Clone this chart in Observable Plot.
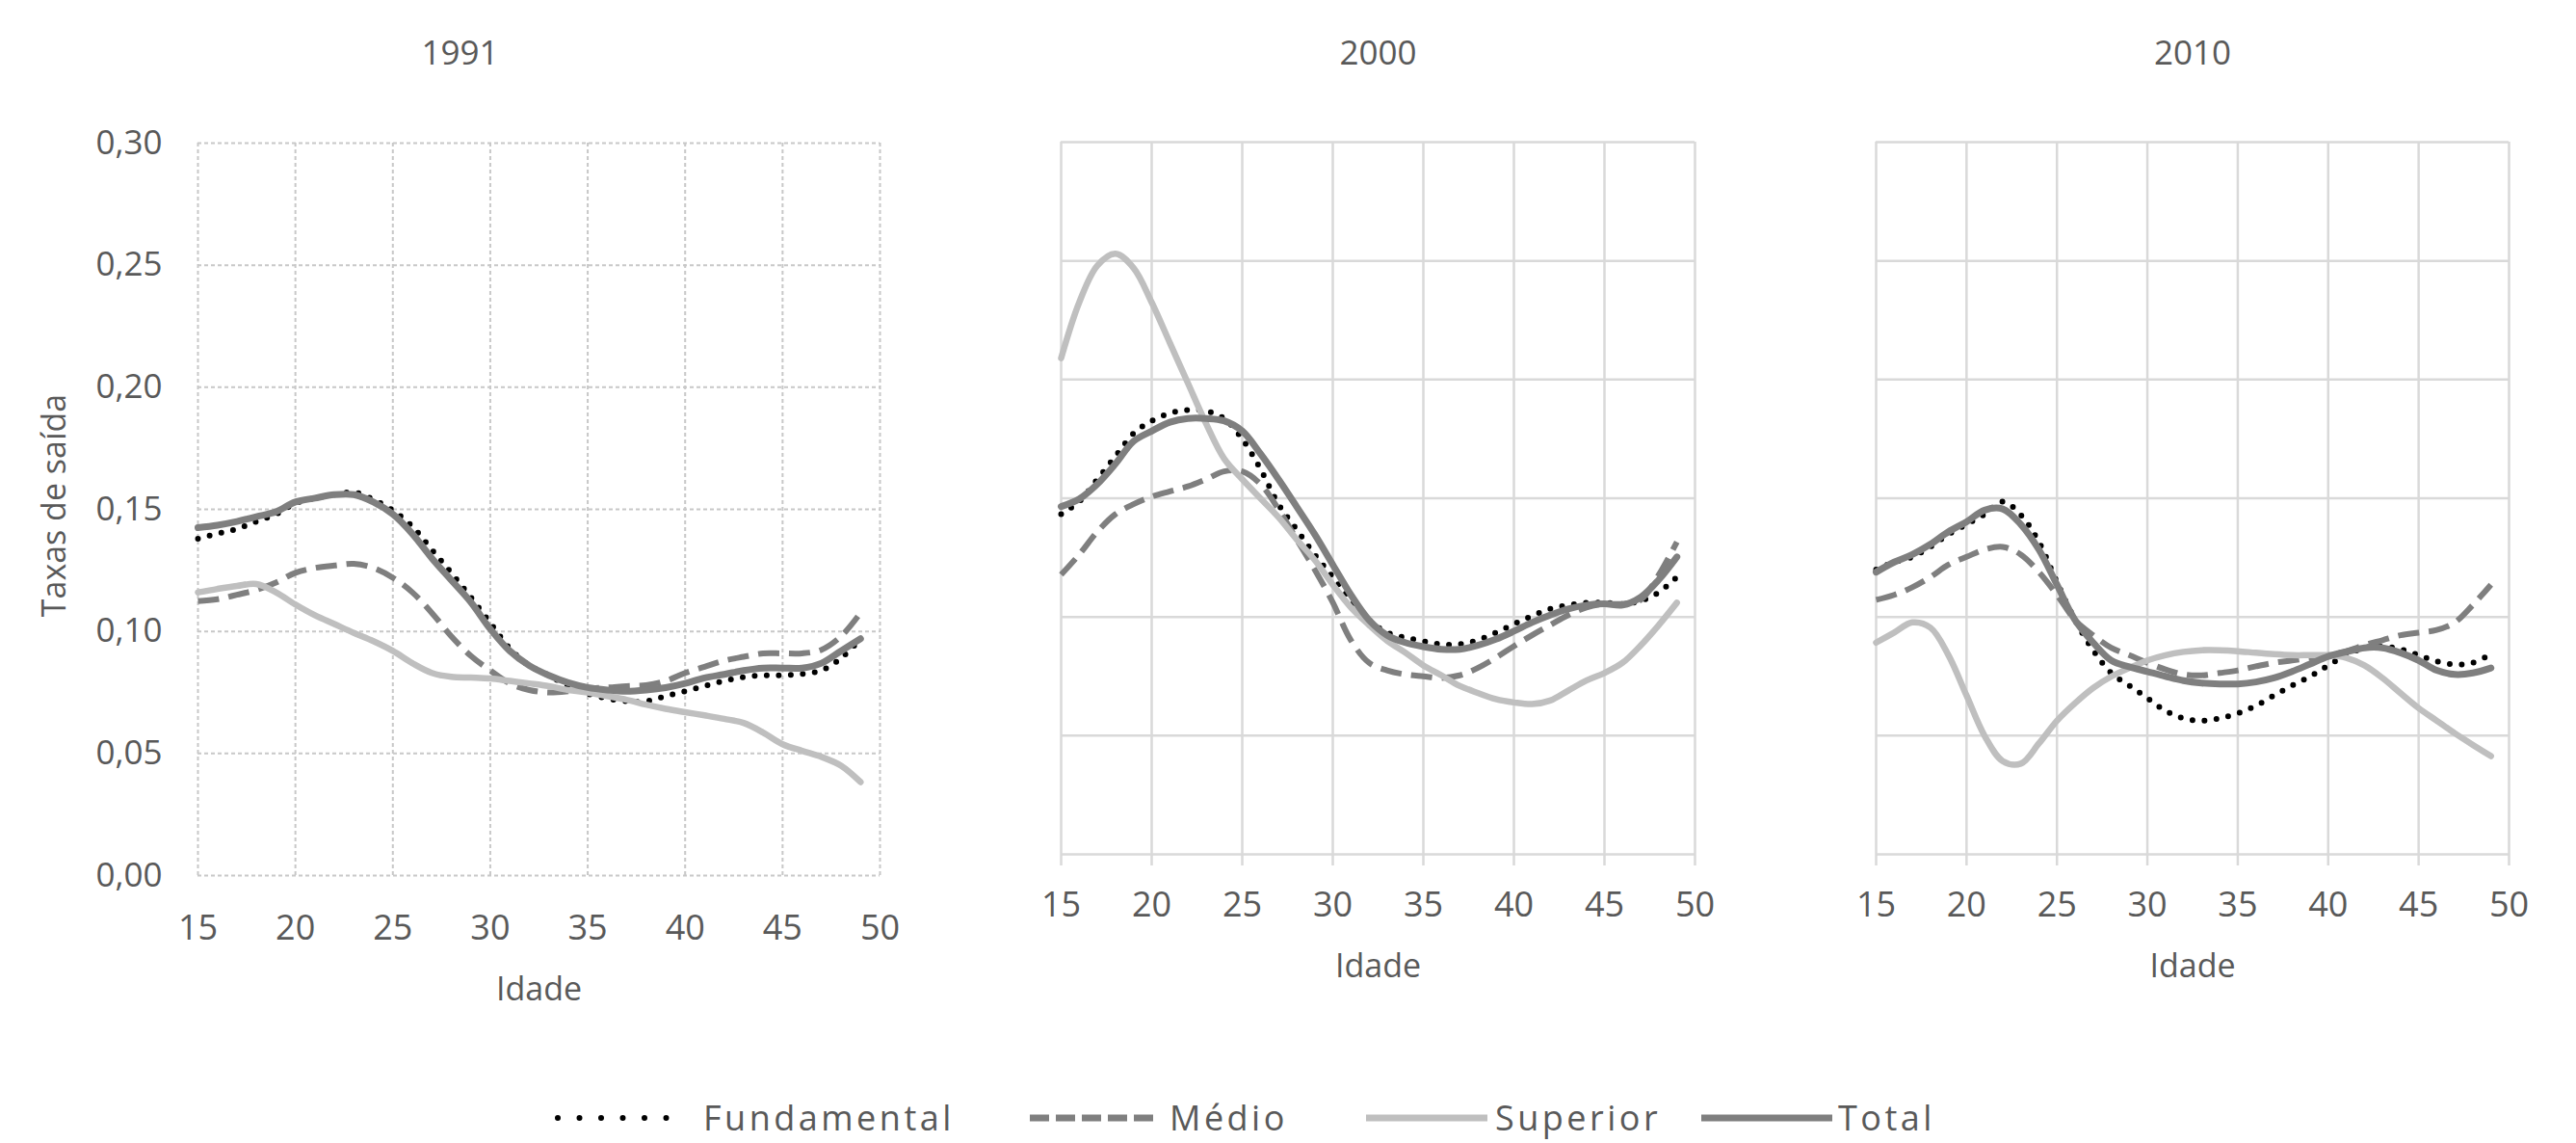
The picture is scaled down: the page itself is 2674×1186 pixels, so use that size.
<!DOCTYPE html>
<html>
<head>
<meta charset="utf-8">
<script src="https://cdn.jsdelivr.net/npm/d3@7"></script>
<script src="https://cdn.jsdelivr.net/npm/@observablehq/plot@0.6"></script>
<style>
  html, body { margin: 0; padding: 0; background: #fff; }
  body { width: 2674px; height: 1186px; overflow: hidden; font-family: "Open Sans", sans-serif; }
  #root { position: relative; width: 2674px; height: 1186px; }
  .panel { position: absolute; top: 0; }
  .leg-line { position: absolute; }
  .leg-text { position: absolute; font-size: 36px; color: #595959; letter-spacing: 3.5px; line-height: 1; transform: translateY(-50%); white-space: nowrap; }
</style>
</head>
<body>
<div id="root"></div>
<script>
// ---------- data ----------
const ages = [15,16,17,18,19,20,21,22,23,24,25,26,27,28,29,30,31,32,33,34,35,36,37,38,39,40,41,42,43,44,45,46,47,48,49];
const xTicks = [15,20,25,30,35,40,45,50];
const yTicks = [0,0.05,0.10,0.15,0.20,0.25,0.30];
const years = ["1991","2000","2010"];
const seriesNames = ["Fundamental","Médio","Superior","Total"];
const xLabel = "Idade";
const yLabel = "Taxas de saída";

const fund1991 = [0.138,0.140,0.142,0.145,0.148,0.1525,0.1546,0.156,0.157,0.154,0.1495,0.143,0.1335,0.124,0.114,0.1035,0.093,0.086,0.082,0.0776,0.0745,0.0725,0.0714,0.0714,0.0735,0.0755,0.0776,0.0797,0.0813,0.082,0.082,0.0826,0.084,0.089,0.097];
const med1991  = [0.1124,0.1132,0.115,0.117,0.120,0.124,0.126,0.127,0.1277,0.126,0.122,0.116,0.1076,0.098,0.090,0.084,0.0787,0.076,0.075,0.0755,0.0766,0.077,0.0776,0.078,0.0797,0.083,0.0855,0.088,0.0896,0.091,0.091,0.091,0.0925,0.098,0.1076];
const sup1991  = [0.116,0.1174,0.1186,0.1194,0.116,0.111,0.1066,0.103,0.0994,0.096,0.092,0.087,0.083,0.0814,0.0811,0.0807,0.0797,0.0787,0.0776,0.076,0.075,0.0735,0.072,0.070,0.0683,0.0669,0.0656,0.0642,0.0625,0.0586,0.0538,0.0511,0.0486,0.045,0.0383];
const tot1991  = [0.1425,0.1435,0.145,0.147,0.149,0.153,0.1546,0.156,0.156,0.153,0.148,0.140,0.130,0.121,0.112,0.101,0.092,0.086,0.082,0.079,0.077,0.076,0.0755,0.076,0.077,0.0787,0.081,0.0824,0.084,0.085,0.085,0.085,0.087,0.092,0.097];

const fund2000 = [0.1433,0.1486,0.158,0.1677,0.1773,0.1826,0.1858,0.1872,0.1868,0.1836,0.175,0.1624,0.1475,0.1369,0.1263,0.1168,0.1072,0.0987,0.0934,0.0913,0.0898,0.0885,0.0885,0.0902,0.0934,0.097,0.1004,0.1034,0.105,0.106,0.106,0.1055,0.1068,0.1104,0.1168];
const med2000  = [0.1178,0.1263,0.1359,0.1433,0.1475,0.1507,0.1529,0.155,0.158,0.1613,0.1613,0.156,0.1454,0.1327,0.120,0.1061,0.0902,0.0807,0.0775,0.0758,0.075,0.0743,0.0754,0.0785,0.0828,0.0877,0.0923,0.0966,0.1008,0.104,0.1055,0.1055,0.1072,0.1178,0.1316];
const sup2000  = [0.209,0.2325,0.248,0.253,0.247,0.2325,0.2155,0.1985,0.1815,0.1667,0.158,0.150,0.142,0.1327,0.124,0.1136,0.104,0.0966,0.090,0.085,0.0796,0.0754,0.071,0.068,0.0654,0.064,0.0633,0.0648,0.069,0.0732,0.0764,0.0807,0.088,0.0966,0.106];
const tot2000  = [0.1465,0.1497,0.156,0.1645,0.174,0.1783,0.182,0.1836,0.1836,0.1826,0.1783,0.1688,0.158,0.1465,0.1348,0.122,0.1093,0.0987,0.0923,0.0892,0.0875,0.0864,0.0864,0.088,0.0906,0.094,0.0977,0.1008,0.1034,0.105,0.1055,0.105,0.1083,0.1157,0.1253];

const fund2010 = [0.120,0.1231,0.1253,0.1295,0.1348,0.139,0.1433,0.1486,0.143,0.1316,0.1146,0.0987,0.086,0.0764,0.0711,0.0658,0.0605,0.0573,0.0563,0.0573,0.0594,0.0626,0.0669,0.0711,0.0749,0.0796,0.0839,0.087,0.0877,0.0864,0.0839,0.0813,0.080,0.0807,0.0843];
const med2010  = [0.1072,0.1093,0.1125,0.1168,0.122,0.1253,0.1284,0.1295,0.1263,0.1189,0.1093,0.0987,0.0923,0.087,0.0839,0.0807,0.0779,0.0758,0.0754,0.0764,0.0775,0.0792,0.0807,0.0817,0.0828,0.0839,0.0856,0.0881,0.0902,0.0923,0.0934,0.0945,0.0977,0.1051,0.1136];
const sup2010  = [0.0892,0.0934,0.0977,0.0955,0.0839,0.0669,0.0499,0.0393,0.0382,0.0467,0.0563,0.0637,0.0701,0.0749,0.0785,0.0817,0.0839,0.0853,0.086,0.086,0.0856,0.0849,0.0843,0.0839,0.0839,0.0839,0.0828,0.0796,0.0743,0.0679,0.0616,0.0563,0.051,0.0461,0.0414];
const tot2010  = [0.1189,0.1231,0.1263,0.1306,0.1359,0.1401,0.145,0.1455,0.139,0.1284,0.1136,0.0987,0.0892,0.0817,0.079,0.077,0.075,0.0732,0.0722,0.0718,0.0718,0.0726,0.0743,0.077,0.0802,0.0834,0.0853,0.087,0.087,0.0849,0.0817,0.0775,0.0758,0.0764,0.0785];

const panelData = [
  [fund1991, med1991, sup1991, tot1991],
  [fund2000, med2000, sup2000, tot2000],
  [fund2010, med2010, sup2010, tot2010]
];

// ---------- styles ----------
const lineStyles = {
  "Fundamental": {stroke: "#000000", strokeWidth: 6, strokeDasharray: "0 12.5", strokeLinecap: "round"},
  "Médio":       {stroke: "#7f7f7f", strokeWidth: 6, strokeDasharray: "22 10", strokeLinecap: "butt"},
  "Superior":    {stroke: "#bfbfbf", strokeWidth: 6.5, strokeLinecap: "round"},
  "Total":       {stroke: "#7f7f7f", strokeWidth: 7, strokeLinecap: "round"}
};
const textColor = "#595959";
const fontFamily = "Open Sans";

// layout of each panel (svg box + plot frame)
const layouts = [
  {left: 0,    width: 960, height: 1060, mL: 205, mR: 47, mT: 148, mB: 152, yAxis: true,  grid: "dashed", tickSize: 0,  tickPad: 41, titleDx: -82, titleDy: -93, labelDy: 119},
  {left: 960,  width: 850, height: 1040, mL: 141, mR: 51, mT: 147, mB: 154, yAxis: false, grid: "solid",  tickSize: 12, tickPad: 27, titleDx: 0,   titleDy: -92, labelDy: 117},
  {left: 1810, width: 864, height: 1040, mL: 137, mR: 70, mT: 147, mB: 154, yAxis: false, grid: "solid",  tickSize: 12, tickPad: 27, titleDx: 0,   titleDy: -92, labelDy: 117}
];

function buildRows(arrs) {
  const out = [];
  seriesNames.forEach((s, i) => arrs[i].forEach((v, j) => out.push({serie: s, age: ages[j], value: v})));
  return out;
}

const root = document.getElementById("root");

layouts.forEach((L, p) => {
  const rows = buildRows(panelData[p]);
  const gridStyle = L.grid === "dashed"
    ? {stroke: "#c8c8c8", strokeOpacity: 1, strokeWidth: 2, strokeDasharray: "4 3"}
    : {stroke: "#d9d9d9", strokeOpacity: 1, strokeWidth: 2.5};
  const marks = [
    Plot.gridX(xTicks, gridStyle),
    Plot.gridY(yTicks, gridStyle),
    Plot.axisX(xTicks, {
      tickSize: L.tickSize, tickPadding: L.tickPad, stroke: "#d9d9d9", strokeWidth: 2.5,
      fill: textColor, fontSize: 36, label: null
    })
  ];
  if (L.yAxis) {
    marks.push(Plot.axisY(yTicks, {
      tickSize: 0, tickPadding: 37, fill: textColor, fontSize: 35, label: null,
      tickFormat: d => d.toFixed(2).replace(".", ",")
    }));
    marks.push(Plot.text([yLabel], {
      frameAnchor: "left", dx: -148, dy: -4, rotate: -90, text: d => d,
      textAnchor: "middle", lineAnchor: "middle", fontSize: 34, fill: textColor
    }));
  }
  seriesNames.forEach(s => {
    marks.push(Plot.line(rows.filter(d => d.serie === s), {
      x: "age", y: "value", curve: "catmull-rom", ...lineStyles[s]
    }));
  });
  marks.push(Plot.text([years[p]], {
    frameAnchor: "top", dx: L.titleDx, dy: L.titleDy, text: d => d,
    textAnchor: "middle", lineAnchor: "middle", fontSize: 35, fill: textColor
  }));
  marks.push(Plot.text([xLabel], {
    frameAnchor: "bottom", dy: L.labelDy, text: d => d,
    textAnchor: "middle", lineAnchor: "middle", fontSize: 34, fill: textColor
  }));

  const svg = Plot.plot({
    width: L.width, height: L.height,
    marginLeft: L.mL, marginRight: L.mR, marginTop: L.mT, marginBottom: L.mB,
    style: {fontFamily: fontFamily, background: "transparent", overflow: "visible"},
    x: {type: "linear", domain: [15, 50]},
    y: {type: "linear", domain: [0, 0.30], axis: L.yAxis ? undefined : null},
    marks
  });
  const wrap = document.createElement("div");
  wrap.className = "panel";
  wrap.style.left = L.left + "px";
  wrap.appendChild(svg);
  root.appendChild(wrap);
});

// ---------- legend ----------
const legendItems = [
  {name: "Fundamental", x0: 576,  x1: 709,  tx: 730},
  {name: "Médio",       x0: 1066, x1: 1204, tx: 1214},
  {name: "Superior",    x0: 1415, x1: 1547, tx: 1552},
  {name: "Total",       x0: 1763, x1: 1905, tx: 1908}
];
const legY = 1160;
const ns = "http://www.w3.org/2000/svg";
legendItems.forEach(it => {
  const st = lineStyles[it.name];
  const svg = document.createElementNS(ns, "svg");
  svg.setAttribute("class", "leg-line");
  svg.setAttribute("width", it.x1 - it.x0 + 10);
  svg.setAttribute("height", 20);
  svg.style.left = (it.x0 - 5) + "px";
  svg.style.top = (legY - 10) + "px";
  const ln = document.createElementNS(ns, "line");
  ln.setAttribute("x1", 8);
  ln.setAttribute("x2", it.x1 - it.x0 + 2);
  ln.setAttribute("y1", 10); ln.setAttribute("y2", 10);
  ln.setAttribute("stroke", st.stroke);
  ln.setAttribute("stroke-width", it.name === "Fundamental" ? 6 : 7);
  if (st.strokeDasharray) ln.setAttribute("stroke-dasharray", it.name === "Médio" ? "20 7" : "0 22.5");
  ln.setAttribute("stroke-linecap", it.name === "Fundamental" ? "round" : "butt");
  svg.appendChild(ln);
  root.appendChild(svg);
  const t = document.createElement("div");
  t.className = "leg-text";
  t.textContent = it.name;
  t.style.left = it.tx + "px";
  t.style.top = legY + "px";
  root.appendChild(t);
});
</script>
</body>
</html>
